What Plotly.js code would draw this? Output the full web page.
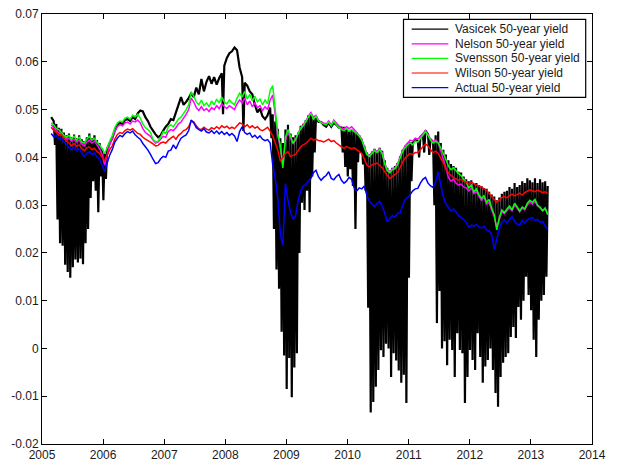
<!DOCTYPE html>
<html>
<head>
<meta charset="utf-8">
<script src="https://cdn.plot.ly/plotly-3.0.1.min.js"></script>
<style>
  html, body { margin: 0; padding: 0; background: #ffffff; }
  #chart { width: 618px; height: 465px; }
</style>
</head>
<body>
<div id="chart"></div>
<script>
// Semi-monthly observations of the 50-year yield, first sample 2005.15
const startYear = 2005.15;
const samplesPerYear = 24;

const seriesNames = ['Vasicek 50-year yield', 'Nelson 50-year yield', 'Svensson 50-year yield',
                     'Wilson 50-year yield', 'Actual 50-year yield'];

// Vasicek model yield (level at each sample)
const vasicek = [
  0.0484, 0.0476, 0.0470, 0.0462, 0.0460, 0.0452, 0.0446, 0.0450, 0.0442, 0.0448, 0.0440, 0.0446, 0.0438, 0.0434, 0.0442, 0.0450, 0.0440, 0.0446, 0.0436, 0.0430, 0.0418, 0.0408, 0.0418, 0.0430,
  0.0440, 0.0456, 0.0468, 0.0472, 0.0470, 0.0478, 0.0480, 0.0476, 0.0484, 0.0480, 0.0492, 0.0498, 0.0496, 0.0484, 0.0476, 0.0464, 0.0456, 0.0448, 0.0442, 0.0446, 0.0456, 0.0464, 0.0470, 0.0480,
  0.0478, 0.0494, 0.0510, 0.0526, 0.0510, 0.0516, 0.0524, 0.0534, 0.0526, 0.0546, 0.0532, 0.0564, 0.0538, 0.0558, 0.0570, 0.0554, 0.0568, 0.0552, 0.0566, 0.0576, 0.0592, 0.0608, 0.0618, 0.0622,
  0.0630, 0.0624, 0.0588, 0.0568, 0.0556, 0.0550, 0.0538, 0.0532, 0.0510, 0.0494, 0.0502, 0.0486, 0.0480, 0.0488, 0.0504, 0.0490, 0.0475, 0.0460, 0.0440, 0.0430, 0.0458, 0.0468, 0.0450, 0.0442,
  0.0446, 0.0452, 0.0466, 0.0470, 0.0478, 0.0488, 0.0490, 0.0482, 0.0484, 0.0474, 0.0474, 0.0468, 0.0464, 0.0472, 0.0464, 0.0472, 0.0468, 0.0462, 0.0462, 0.0464, 0.0460, 0.0454, 0.0458, 0.0456,
  0.0452, 0.0446, 0.0438, 0.0424, 0.0410, 0.0404, 0.0412, 0.0418, 0.0414, 0.0420, 0.0414, 0.0394, 0.0378, 0.0372, 0.0378, 0.0382, 0.0388, 0.0402, 0.0416, 0.0424, 0.0430, 0.0432, 0.0430, 0.0436,
  0.0434, 0.0442, 0.0448, 0.0456, 0.0448, 0.0438, 0.0432, 0.0446, 0.0454, 0.0430, 0.0416, 0.0406, 0.0394, 0.0386, 0.0382, 0.0378, 0.0370, 0.0368, 0.0360, 0.0354, 0.0350, 0.0352, 0.0344, 0.0346,
  0.0342, 0.0340, 0.0336, 0.0334, 0.0328, 0.0322, 0.0318, 0.0310, 0.0316, 0.0324, 0.0328, 0.0330, 0.0338, 0.0334, 0.0346, 0.0338, 0.0342, 0.0350, 0.0346, 0.0356, 0.0352, 0.0348, 0.0356, 0.0346,
  0.0354, 0.0348, 0.0350, 0.0340
];

// Vasicek intra-period lows (null where the fit did not break down)
const vasicekDips = [
  null, 0.0426, 0.0270, 0.0220, 0.0215, 0.0175, 0.0160, 0.0148, 0.0170, 0.0186, 0.0180, 0.0188, 0.0176, 0.0220, 0.0250, 0.0315, 0.0350, 0.0330, 0.0285, 0.0360, 0.0310, 0.0355, null, null,
  null, null, null, null, null, null, null, null, null, null, null, null, null, null, null, null, null, null, null, null, null, null, null, null,
  null, null, null, null, null, null, null, null, null, null, null, null, null, null, null, null, null, null, null, 0.0490, null, null, null, null,
  null, null, null, 0.0455, null, null, null, null, null, null, null, null, null, null, 0.0440, 0.0250, 0.0165, 0.0125, 0.0035, -0.0015, -0.0085, -0.0020, -0.0102, -0.0040,
  -0.0010, 0.0200, 0.0305, 0.0290, 0.0330, 0.0285, 0.0360, 0.0410, null, null, null, null, null, null, null, null, null, null, 0.0410, 0.0380, 0.0360, 0.0375, 0.0340, 0.0250,
  0.0390, 0.0410, 0.0385, 0.0330, 0.0085, -0.0134, -0.0112, -0.0080, -0.0045, -0.0004, -0.0018, 0.0010, 0.0000, -0.0060, -0.0010, -0.0025, -0.0046, -0.0072, -0.0055, -0.0114, 0.0148, 0.0350, null, null,
  0.0400, null, 0.0410, null, 0.0405, null, 0.0300, 0.0053, 0.0120, 0.0000, 0.0015, -0.0035, 0.0018, -0.0003, -0.0060, 0.0032, -0.0003, -0.0010, -0.0114, -0.0060, -0.0003, -0.0024, -0.0045, 0.0032,
  -0.0018, -0.0072, -0.0038, -0.0024, 0.0000, -0.0045, -0.0093, -0.0122, -0.0060, -0.0030, -0.0018, -0.0010, 0.0024, 0.0045, 0.0022, 0.0087, 0.0060, 0.0100, 0.0150, 0.0112, 0.0080, 0.0018, -0.0018, 0.0060,
  0.0100, 0.0112, 0.0150, null
];

const nelson = [
  0.0468, 0.0462, 0.0456, 0.0452, 0.0448, 0.0442, 0.0438, 0.0440, 0.0434, 0.0438, 0.0432, 0.0436, 0.0428, 0.0424, 0.0432, 0.0436, 0.0430, 0.0434, 0.0426, 0.0418, 0.0406, 0.0384, 0.0406, 0.0426,
  0.0440, 0.0454, 0.0464, 0.0468, 0.0466, 0.0472, 0.0474, 0.0470, 0.0476, 0.0474, 0.0478, 0.0472, 0.0460, 0.0452, 0.0448, 0.0444, 0.0436, 0.0430, 0.0432, 0.0438, 0.0444, 0.0442, 0.0454, 0.0458,
  0.0456, 0.0462, 0.0470, 0.0474, 0.0482, 0.0490, 0.0500, 0.0524, 0.0516, 0.0504, 0.0498, 0.0506, 0.0498, 0.0502, 0.0496, 0.0504, 0.0500, 0.0508, 0.0502, 0.0512, 0.0506, 0.0502, 0.0508, 0.0504,
  0.0500, 0.0512, 0.0520, 0.0514, 0.0524, 0.0510, 0.0518, 0.0506, 0.0514, 0.0504, 0.0508, 0.0498, 0.0506, 0.0500, 0.0520, 0.0530, 0.0490, 0.0445, 0.0420, 0.0385, 0.0436, 0.0452, 0.0440, 0.0428,
  0.0436, 0.0450, 0.0462, 0.0468, 0.0476, 0.0486, 0.0494, 0.0484, 0.0488, 0.0478, 0.0474, 0.0472, 0.0470, 0.0476, 0.0468, 0.0478, 0.0472, 0.0466, 0.0460, 0.0460, 0.0464, 0.0460, 0.0464, 0.0458,
  0.0452, 0.0446, 0.0438, 0.0422, 0.0408, 0.0404, 0.0410, 0.0416, 0.0412, 0.0418, 0.0410, 0.0388, 0.0374, 0.0370, 0.0376, 0.0378, 0.0386, 0.0400, 0.0414, 0.0424, 0.0430, 0.0436, 0.0434, 0.0440,
  0.0438, 0.0444, 0.0450, 0.0456, 0.0448, 0.0438, 0.0432, 0.0436, 0.0430, 0.0414, 0.0396, 0.0378, 0.0358, 0.0350, 0.0354, 0.0346, 0.0342, 0.0344, 0.0338, 0.0336, 0.0330, 0.0336, 0.0324, 0.0330,
  0.0318, 0.0310, 0.0316, 0.0302, 0.0306, 0.0290, 0.0276, 0.0254, 0.0270, 0.0286, 0.0282, 0.0288, 0.0294, 0.0288, 0.0300, 0.0294, 0.0286, 0.0294, 0.0290, 0.0300, 0.0306, 0.0302, 0.0308, 0.0298,
  0.0294, 0.0288, 0.0292, 0.0282
];

const svensson = [
  0.0472, 0.0468, 0.0460, 0.0458, 0.0452, 0.0446, 0.0442, 0.0446, 0.0438, 0.0444, 0.0436, 0.0442, 0.0432, 0.0430, 0.0438, 0.0444, 0.0436, 0.0440, 0.0432, 0.0426, 0.0418, 0.0408, 0.0420, 0.0434,
  0.0446, 0.0462, 0.0472, 0.0476, 0.0474, 0.0482, 0.0484, 0.0480, 0.0488, 0.0485, 0.0490, 0.0482, 0.0470, 0.0462, 0.0458, 0.0452, 0.0438, 0.0432, 0.0434, 0.0442, 0.0454, 0.0450, 0.0464, 0.0468,
  0.0464, 0.0472, 0.0480, 0.0484, 0.0492, 0.0500, 0.0510, 0.0536, 0.0528, 0.0516, 0.0510, 0.0520, 0.0508, 0.0514, 0.0506, 0.0518, 0.0510, 0.0522, 0.0514, 0.0526, 0.0516, 0.0512, 0.0520, 0.0514,
  0.0510, 0.0524, 0.0534, 0.0526, 0.0538, 0.0522, 0.0532, 0.0518, 0.0528, 0.0516, 0.0522, 0.0510, 0.0520, 0.0512, 0.0540, 0.0550, 0.0500, 0.0450, 0.0425, 0.0378, 0.0442, 0.0458, 0.0444, 0.0430,
  0.0438, 0.0450, 0.0460, 0.0466, 0.0474, 0.0484, 0.0492, 0.0480, 0.0486, 0.0476, 0.0472, 0.0470, 0.0468, 0.0474, 0.0466, 0.0476, 0.0468, 0.0462, 0.0458, 0.0456, 0.0460, 0.0456, 0.0458, 0.0454,
  0.0450, 0.0444, 0.0436, 0.0420, 0.0406, 0.0402, 0.0408, 0.0414, 0.0410, 0.0416, 0.0408, 0.0386, 0.0372, 0.0368, 0.0374, 0.0376, 0.0384, 0.0398, 0.0412, 0.0420, 0.0426, 0.0430, 0.0426, 0.0434,
  0.0432, 0.0440, 0.0446, 0.0454, 0.0446, 0.0436, 0.0430, 0.0434, 0.0430, 0.0420, 0.0408, 0.0396, 0.0382, 0.0374, 0.0378, 0.0372, 0.0366, 0.0362, 0.0354, 0.0348, 0.0336, 0.0342, 0.0328, 0.0334,
  0.0322, 0.0314, 0.0320, 0.0306, 0.0312, 0.0294, 0.0280, 0.0248, 0.0274, 0.0290, 0.0284, 0.0292, 0.0298, 0.0290, 0.0304, 0.0296, 0.0288, 0.0296, 0.0292, 0.0304, 0.0310, 0.0306, 0.0312, 0.0300,
  0.0296, 0.0288, 0.0294, 0.0280
];

const wilson = [
  0.0463, 0.0456, 0.0452, 0.0446, 0.0448, 0.0440, 0.0434, 0.0430, 0.0424, 0.0429, 0.0423, 0.0426, 0.0418, 0.0414, 0.0420, 0.0422, 0.0416, 0.0419, 0.0412, 0.0408, 0.0400, 0.0394, 0.0404, 0.0416,
  0.0424, 0.0438, 0.0448, 0.0452, 0.0450, 0.0456, 0.0459, 0.0457, 0.0460, 0.0455, 0.0450, 0.0448, 0.0442, 0.0438, 0.0435, 0.0432, 0.0428, 0.0424, 0.0425, 0.0430, 0.0432, 0.0430, 0.0436, 0.0440,
  0.0444, 0.0438, 0.0446, 0.0450, 0.0456, 0.0458, 0.0464, 0.0476, 0.0474, 0.0466, 0.0460, 0.0458, 0.0463, 0.0459, 0.0457, 0.0462, 0.0459, 0.0464, 0.0460, 0.0466, 0.0462, 0.0465, 0.0460, 0.0463,
  0.0460, 0.0466, 0.0472, 0.0470, 0.0464, 0.0468, 0.0462, 0.0466, 0.0461, 0.0464, 0.0458, 0.0456, 0.0459, 0.0463, 0.0455, 0.0445, 0.0430, 0.0415, 0.0392, 0.0400, 0.0408, 0.0412, 0.0402, 0.0404,
  0.0406, 0.0414, 0.0422, 0.0426, 0.0429, 0.0434, 0.0440, 0.0436, 0.0438, 0.0435, 0.0434, 0.0432, 0.0435, 0.0438, 0.0433, 0.0435, 0.0430, 0.0426, 0.0422, 0.0419, 0.0423, 0.0420, 0.0418, 0.0420,
  0.0416, 0.0412, 0.0408, 0.0396, 0.0384, 0.0380, 0.0384, 0.0386, 0.0388, 0.0383, 0.0378, 0.0370, 0.0362, 0.0356, 0.0360, 0.0364, 0.0368, 0.0378, 0.0390, 0.0398, 0.0404, 0.0408, 0.0406, 0.0410,
  0.0410, 0.0416, 0.0422, 0.0428, 0.0424, 0.0416, 0.0410, 0.0413, 0.0408, 0.0398, 0.0389, 0.0376, 0.0368, 0.0362, 0.0358, 0.0355, 0.0352, 0.0354, 0.0350, 0.0348, 0.0344, 0.0348, 0.0345, 0.0342,
  0.0340, 0.0338, 0.0334, 0.0331, 0.0324, 0.0318, 0.0312, 0.0306, 0.0310, 0.0316, 0.0318, 0.0315, 0.0320, 0.0323, 0.0320, 0.0322, 0.0325, 0.0321, 0.0326, 0.0329, 0.0332, 0.0330, 0.0328, 0.0331,
  0.0329, 0.0326, 0.0328, 0.0324
];

const actual = [
  0.0450, 0.0443, 0.0446, 0.0438, 0.0440, 0.0432, 0.0428, 0.0420, 0.0416, 0.0422, 0.0415, 0.0418, 0.0409, 0.0402, 0.0408, 0.0412, 0.0406, 0.0409, 0.0400, 0.0396, 0.0384, 0.0370, 0.0388, 0.0405,
  0.0416, 0.0432, 0.0440, 0.0446, 0.0443, 0.0450, 0.0454, 0.0451, 0.0455, 0.0447, 0.0442, 0.0438, 0.0429, 0.0422, 0.0415, 0.0406, 0.0396, 0.0387, 0.0389, 0.0397, 0.0402, 0.0400, 0.0413, 0.0415,
  0.0426, 0.0418, 0.0430, 0.0440, 0.0444, 0.0447, 0.0456, 0.0478, 0.0472, 0.0462, 0.0458, 0.0455, 0.0460, 0.0453, 0.0451, 0.0456, 0.0450, 0.0455, 0.0449, 0.0454, 0.0448, 0.0452, 0.0446, 0.0450,
  0.0445, 0.0433, 0.0454, 0.0464, 0.0452, 0.0448, 0.0451, 0.0442, 0.0446, 0.0440, 0.0445, 0.0438, 0.0435, 0.0437, 0.0430, 0.0385, 0.0355, 0.0315, 0.0240, 0.0215, 0.0345, 0.0310, 0.0285, 0.0270,
  0.0278, 0.0310, 0.0330, 0.0340, 0.0343, 0.0350, 0.0356, 0.0368, 0.0373, 0.0359, 0.0352, 0.0358, 0.0362, 0.0370, 0.0356, 0.0353, 0.0360, 0.0364, 0.0352, 0.0346, 0.0350, 0.0358, 0.0354, 0.0336,
  0.0330, 0.0336, 0.0334, 0.0340, 0.0320, 0.0308, 0.0303, 0.0296, 0.0304, 0.0308, 0.0298, 0.0283, 0.0265, 0.0272, 0.0278, 0.0275, 0.0282, 0.0284, 0.0298, 0.0312, 0.0316, 0.0322, 0.0330, 0.0334,
  0.0335, 0.0346, 0.0354, 0.0358, 0.0346, 0.0340, 0.0337, 0.0348, 0.0370, 0.0342, 0.0318, 0.0302, 0.0295, 0.0288, 0.0292, 0.0286, 0.0278, 0.0274, 0.0270, 0.0264, 0.0254, 0.0258, 0.0256, 0.0259,
  0.0255, 0.0252, 0.0256, 0.0248, 0.0246, 0.0238, 0.0208, 0.0228, 0.0250, 0.0264, 0.0269, 0.0262, 0.0270, 0.0276, 0.0266, 0.0260, 0.0258, 0.0268, 0.0262, 0.0269, 0.0272, 0.0274, 0.0268, 0.0270,
  0.0264, 0.0266, 0.0256, 0.0250
];

const xTickVals = [2005, 2006, 2007, 2008, 2009, 2010, 2011, 2012, 2013, 2014];
const xTickText = ['2005', '2006', '2007', '2008', '2009', '2010', '2011', '2012', '2013', '2014'];
const yTickVals = [-0.02, -0.01, 0, 0.01, 0.02, 0.03, 0.04, 0.05, 0.06, 0.07];
const yTickText = ['-0.02', '-0.01', '0', '0.01', '0.02', '0.03', '0.04', '0.05', '0.06', '0.07'];

const lineColors = ['#000000', '#ff00ff', '#00ff00', '#ff0000', '#0000ff'];

// sampling dates
const years = (arr) => arr.map((_, i) => startYear + i / samplesPerYear);

// Vasicek path: each sample followed by its intra-period low, when one was recorded
const vx = [], vy = [];
vasicek.forEach((v, i) => {
  const t = startYear + i / samplesPerYear;
  vx.push(t); vy.push(v);
  if (vasicekDips[i] !== null && vasicekDips[i] !== undefined) {
    vx.push(t + 0.5 / samplesPerYear);
    vy.push(vasicekDips[i]);
  }
});

const series = [
  { x: vx, y: vy },
  { x: years(nelson), y: nelson },
  { x: years(svensson), y: svensson },
  { x: years(wilson), y: wilson },
  { x: years(actual), y: actual }
];

const traces = series.map((s, k) => ({
  type: 'scatter',
  mode: 'lines',
  name: seriesNames[k],
  x: s.x,
  y: s.y,
  line: { color: lineColors[k], width: k === 0 ? 2.2 : 1.5, simplify: false },
  hoverinfo: 'skip',
  showlegend: false
}));

const fontFamily = 'Liberation Sans, Arial, Helvetica, sans-serif';
const textColor = '#1a1a1a';

// Plot frame in pixels
const W = 618, H = 465;
const M = { l: 42, r: 26, t: 14, b: 21 };
const plotW = W - M.l - M.r, plotH = H - M.t - M.b;
const px = (x) => (x - M.l) / plotW;        // pixel -> paper x
const py = (y) => (H - M.b - y) / plotH;    // pixel -> paper y

// Legend box (drawn in paper space, compact entry spacing)
const legendBox = { left: 403.5, right: 585.7, top: 19.3, bottom: 97.3 };
const legendRow0 = 29.2, legendPitch = 14.6;
const legendLine = { x0: 411.7, x1: 448.3 }, legendTextX = 452.5;

const shapes = [{
  type: 'rect', xref: 'paper', yref: 'paper', layer: 'above',
  x0: px(legendBox.left), x1: px(legendBox.right),
  y0: py(legendBox.bottom), y1: py(legendBox.top),
  fillcolor: '#ffffff', line: { color: '#000000', width: 1.2 }
}];
const annotations = [];
seriesNames.forEach((name, k) => {
  const yy = py(legendRow0 + k * legendPitch);
  shapes.push({
    type: 'line', xref: 'paper', yref: 'paper', layer: 'above',
    x0: px(legendLine.x0), x1: px(legendLine.x1), y0: yy, y1: yy,
    line: { color: lineColors[k], width: 1.2 }
  });
  annotations.push({
    xref: 'paper', yref: 'paper', x: px(legendTextX), y: yy,
    xanchor: 'left', yanchor: 'middle', showarrow: false,
    text: name, font: { family: fontFamily, size: 12, color: textColor }
  });
});

const axisCommon = {
  showline: true,
  linecolor: '#000000',
  linewidth: 1,
  mirror: 'ticks',
  ticks: 'inside',
  ticklen: 5,
  tickwidth: 1,
  tickcolor: '#000000',
  showgrid: false,
  zeroline: false,
  tickmode: 'array',
  tickfont: { family: fontFamily, size: 12, color: textColor }
};

const layout = {
  width: W,
  height: H,
  margin: M,
  paper_bgcolor: '#ffffff',
  plot_bgcolor: '#ffffff',
  font: { family: fontFamily, size: 12, color: textColor },
  showlegend: false,
  shapes: shapes,
  annotations: annotations,
  xaxis: Object.assign({}, axisCommon, {
    range: [2005, 2014],
    tickvals: xTickVals,
    ticktext: xTickText
  }),
  yaxis: Object.assign({}, axisCommon, {
    range: [-0.02, 0.07],
    tickvals: yTickVals,
    ticktext: yTickText
  })
};

Plotly.newPlot('chart', traces, layout, { staticPlot: true, displayModeBar: false });
</script>
</body>
</html>
